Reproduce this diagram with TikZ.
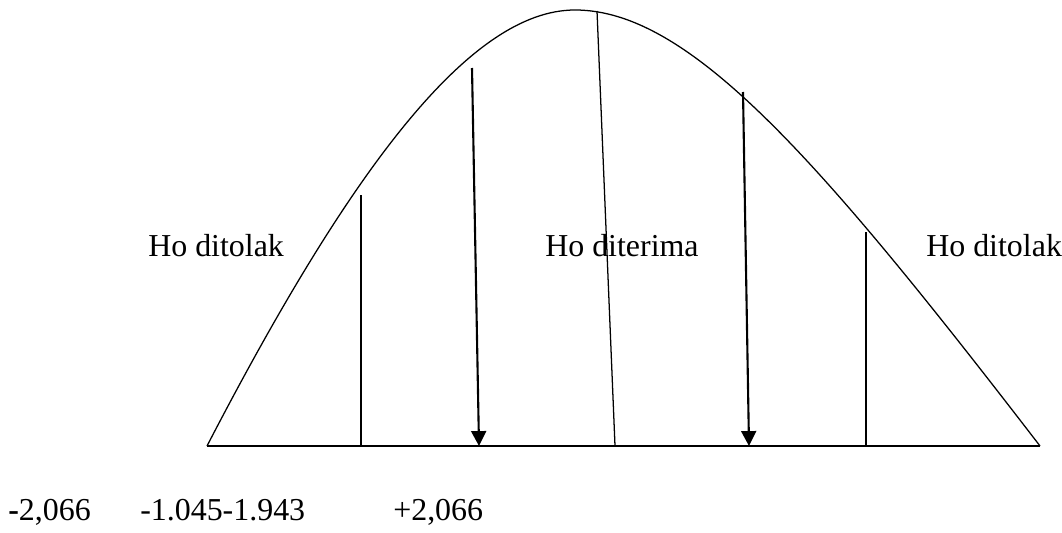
\documentclass[tikz,border=0pt]{standalone}
\usepackage{fontspec}
\setmainfont{Liberation Serif}
\usetikzlibrary{arrows.meta}

\begin{document}
\begin{tikzpicture}[
        x=0.025cm, y=-0.025cm,
        label/.style={inner sep=0pt, font=\fontsize{22.7}{27}\selectfont},
        bound/.style={line width=0.9pt},
        crit/.style={line width=1.5pt, -{Triangle[length=10.6pt,width=10.6pt]}}
    ]
        \useasboundingbox (0,0) rectangle (1062,532);
        % sumbu dan kurva
        \coordinate (kiri) at (207,446);
        \coordinate (puncak) at (575,10);
        \coordinate (kanan) at (1040,446);
        \draw[line width=1.4pt] (kiri) -- (kanan);
        \draw[bound] (kiri) .. controls (350,170) and (470,10) .. (puncak)
            .. controls (690,10) and (820,160) .. (kanan);
        % garis batas
        \coordinate (a1) at (361,195);  \coordinate (a2) at (361,446);
        \coordinate (b1) at (472,68);   \coordinate (b2) at (479,446);
        \coordinate (c1) at (597,11);   \coordinate (c2) at (615,446);
        \coordinate (d1) at (743,92);   \coordinate (d2) at (749,446);
        \coordinate (e1) at (866,232);  \coordinate (e2) at (866,446);
        \draw[bound] (a1) -- (a2);
        \draw[crit] (b1) -- (b2);
        \draw[bound] (c1) -- (c2);
        \draw[crit] (d1) -- (d2);
        \draw[bound] (e1) -- (e2);
        % keterangan daerah
        \node[label, anchor=base west] (tolakkiri) at (148,256) {Ho ditolak};
        \node[label, anchor=base west] (terima) at (545,256) {Ho diterima};
        \node[label, anchor=base west] (tolakkanan) at (926,256) {Ho ditolak};
        % nilai kritis
        \node[label, anchor=base west] (nilaia) at (8,520) {\textbf{-}2,066};
        \node[label, anchor=base west] (nilaib) at (140,520) {-1.045-1.943};
        \node[label, anchor=base west] (nilaic) at (393,520) {+2,066};
    \end{tikzpicture}
\end{document}
